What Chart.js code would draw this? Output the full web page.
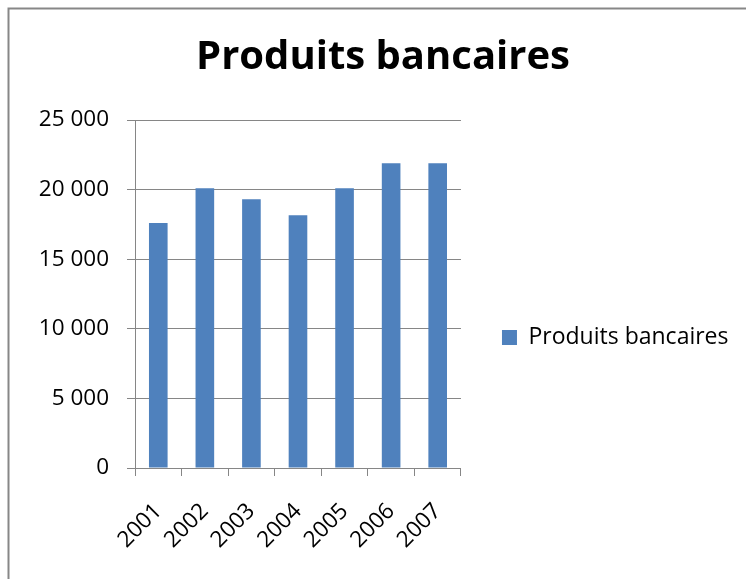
<!DOCTYPE html>
<html>
<head>
<meta charset="utf-8">
<script src="https://cdn.jsdelivr.net/npm/chart.js@4"></script>
<style>
  html, body { margin: 0; padding: 0; background: #ffffff; }
  #wrap { position: relative; width: 746px; height: 579px; }
</style>
</head>
<body>
<div id="wrap"><canvas id="c" width="746" height="579"></canvas></div>
<script>
const categories = ['2001', '2002', '2003', '2004', '2005', '2006', '2007'];
const seriesName = 'Produits bancaires';
const values = [17600, 20100, 19300, 18150, 20100, 21900, 21900];
const yTickValues = [0, 5000, 10000, 15000, 20000, 25000];
const yTickLabels = ['0', '5 000', '10 000', '15 000', '20 000', '25 000'];
const chartTitle = 'Produits bancaires';

const FONT = "'Open Sans', sans-serif";
const GRID = '#868686';

const frame = {
  id: 'frame',
  beforeDraw(chart) {
    const ctx = chart.ctx;
    ctx.save();
    ctx.fillStyle = '#ffffff';
    ctx.fillRect(0, 0, chart.width, chart.height);
    ctx.strokeStyle = '#878787';
    ctx.lineWidth = 2;
    ctx.beginPath();
    ctx.moveTo(8.5, chart.height + 5);
    ctx.lineTo(8.5, 8.5);
    ctx.lineTo(chart.width + 5, 8.5);
    ctx.stroke();
    ctx.restore();
  }
};

// Place the legend lower, as in the reference (layout only).
const legendShift = {
  id: 'legendShift',
  afterLayout(chart) {
    const lg = chart.legend;
    if (lg) { lg.top += 48; lg.bottom += 48; }
  }
};

new Chart(document.getElementById('c'), {
  type: 'bar',
  data: {
    labels: categories,
    datasets: [{
      label: seriesName,
      data: values,
      backgroundColor: '#4F81BD',
      borderWidth: 0,
      categoryPercentage: 1.0,
      barPercentage: 0.4
    }]
  },
  options: {
    responsive: false,
    animation: false,
    devicePixelRatio: 1,
    layout: { padding: { left: 27.5, right: 7.5, top: 0, bottom: 0 } },
    plugins: {
      title: {
        display: true,
        text: chartTitle,
        color: '#000000',
        font: { family: FONT, size: 40, weight: 'bold' },
        padding: { top: 34, bottom: 38 }
      },
      legend: {
        display: true,
        position: 'right',
        maxWidth: 400,
        labels: {
          color: '#000000',
          font: { family: FONT, size: 23 },
          boxWidth: 15,
          boxHeight: 15,
          padding: 41
        }
      },
      tooltip: { enabled: false }
    },
    scales: {
      x: {
        offset: true,
        afterFit(scale) { scale.height = 111; },
        grid: {
          display: true,
          drawOnChartArea: false,
          offset: true,
          color: GRID,
          tickLength: 8,
          tickColor: GRID
        },
        border: { display: true, color: GRID, width: 1 },
        ticks: {
          color: '#000000',
          font: { family: FONT, size: 22.5 },
          minRotation: 45,
          maxRotation: 45,
          padding: 22,
          autoSkip: false
        }
      },
      y: {
        min: 0,
        max: 25000,
        afterFit(scale) { scale.width = 107.5; },
        afterBuildTicks(scale) { scale.ticks = yTickValues.map(v => ({ value: v })); },
        grid: {
          color: GRID,
          tickLength: 8,
          tickColor: GRID
        },
        border: { display: true, color: GRID, width: 1 },
        ticks: {
          color: '#000000',
          font: { family: FONT, size: 22.5 },
          padding: 18,
          callback(v) {
            const i = yTickValues.indexOf(v);
            return i >= 0 ? yTickLabels[i] : '';
          }
        }
      }
    }
  },
  plugins: [frame, legendShift]
});
</script>
</body>
</html>
